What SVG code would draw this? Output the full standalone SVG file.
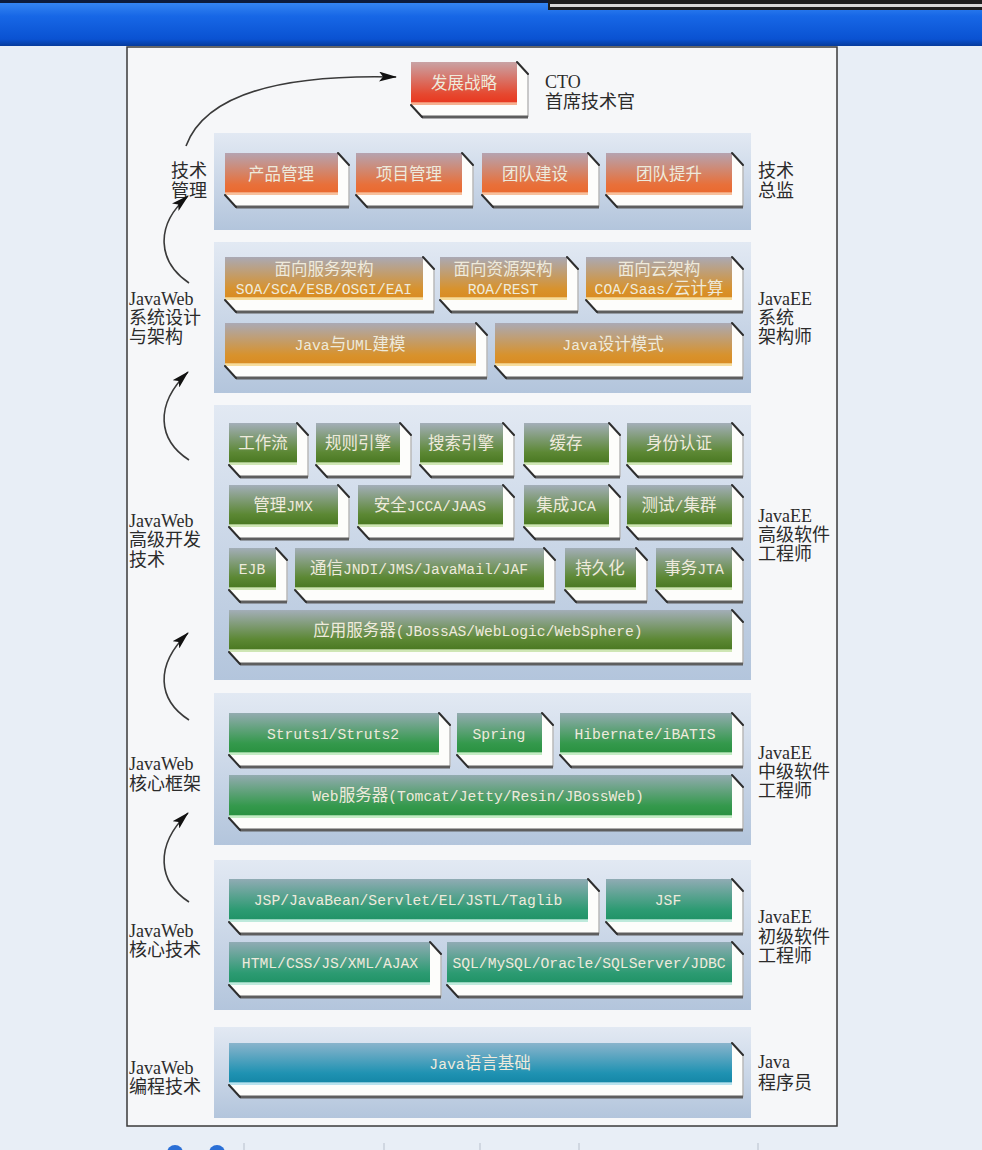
<svg xmlns="http://www.w3.org/2000/svg" width="982" height="1150" viewBox="0 0 982 1150">
<style>
.lbl{font-family:"Liberation Serif","Noto Sans CJK SC",serif;font-size:18px;fill:#2b2b2b}
.bt{font-family:"Liberation Mono","Noto Sans CJK SC",monospace;font-size:14.7px;fill:#eeeadc;text-anchor:middle}
.cj{font-size:16.5px}
.side{fill:#fdfdfb}
.e1{fill:none;stroke:#2e2e2e;stroke-width:2;stroke-linecap:round}
.e2{fill:none;stroke:#5e5e5e;stroke-width:3}
.e3{fill:none;stroke:#b8b8b8;stroke-width:1.5}
.sec{fill:url(#gSec)}
.con{fill:none;stroke:#3a3a3a;stroke-width:1.6}
</style>
<defs>
<linearGradient id="gBar" x1="0" y1="0" x2="0" y2="1">
<stop offset="0" stop-color="#3b8cf5"/><stop offset="0.35" stop-color="#1767e6"/><stop offset="0.85" stop-color="#0a52d2"/><stop offset="1" stop-color="#053a9c"/>
</linearGradient>
<linearGradient id="gSec" x1="0" y1="0" x2="0" y2="1">
<stop offset="0" stop-color="#e2e9f3"/><stop offset="1" stop-color="#b3c5dc"/>
</linearGradient>
<linearGradient id="gRed" x1="0" y1="0" x2="0" y2="1">
<stop offset="0" stop-color="#c9a3a5"/><stop offset="0.75" stop-color="#e6482f"/><stop offset="0.92" stop-color="#e83a22"/><stop offset="0.95" stop-color="#f6b090"/><stop offset="1" stop-color="#f6b090"/>
</linearGradient>
<linearGradient id="gOr" x1="0" y1="0" x2="0" y2="1">
<stop offset="0" stop-color="#b5a3b0"/><stop offset="0.75" stop-color="#e8703a"/><stop offset="0.92" stop-color="#ea6a30"/><stop offset="0.95" stop-color="#f7c09c"/><stop offset="1" stop-color="#f7c09c"/>
</linearGradient>
<linearGradient id="gGold" x1="0" y1="0" x2="0" y2="1">
<stop offset="0" stop-color="#aaa9b4"/><stop offset="0.75" stop-color="#d8922c"/><stop offset="0.92" stop-color="#d98c24"/><stop offset="0.95" stop-color="#f6dc9c"/><stop offset="1" stop-color="#f6dc9c"/>
</linearGradient>
<linearGradient id="gOl" x1="0" y1="0" x2="0" y2="1">
<stop offset="0" stop-color="#a3aeb8"/><stop offset="0.7" stop-color="#5c8834"/><stop offset="0.92" stop-color="#4c7a24"/><stop offset="0.95" stop-color="#cfe6b4"/><stop offset="1" stop-color="#cfe6b4"/>
</linearGradient>
<linearGradient id="gGr" x1="0" y1="0" x2="0" y2="1">
<stop offset="0" stop-color="#93abb0"/><stop offset="0.72" stop-color="#34994c"/><stop offset="0.92" stop-color="#2b9242"/><stop offset="0.95" stop-color="#c4ecc4"/><stop offset="1" stop-color="#c4ecc4"/>
</linearGradient>
<linearGradient id="gTe" x1="0" y1="0" x2="0" y2="1">
<stop offset="0" stop-color="#90abb4"/><stop offset="0.72" stop-color="#2c9b72"/><stop offset="0.92" stop-color="#229468"/><stop offset="0.95" stop-color="#bfeadc"/><stop offset="1" stop-color="#bfeadc"/>
</linearGradient>
<linearGradient id="gBl" x1="0" y1="0" x2="0" y2="1">
<stop offset="0" stop-color="#8ab4cc"/><stop offset="0.72" stop-color="#1f92b2"/><stop offset="0.92" stop-color="#1688a8"/><stop offset="0.95" stop-color="#b8e2ee"/><stop offset="1" stop-color="#b8e2ee"/>
</linearGradient>
<linearGradient id="gSlab" x1="0" y1="0" x2="0" y2="1">
<stop offset="0" stop-color="#e9ebee"/><stop offset="0.5" stop-color="#ffffff"/><stop offset="1" stop-color="#f7f7f4"/>
</linearGradient>
<marker id="ah" viewBox="0 0 18 10" refX="17" refY="5" markerWidth="18" markerHeight="10" markerUnits="userSpaceOnUse" orient="auto">
<path d="M0,0 L18,5 L0,10 L4,5 z" fill="#111"/>
</marker>
</defs>

<!-- window background -->
<rect x="0" y="0" width="982" height="1150" fill="#e8eef6"/>
<rect x="0" y="0" width="982" height="46" fill="url(#gBar)"/>
<rect x="0" y="0" width="982" height="3" fill="#0d1c3c"/>
<rect x="548" y="0" width="434" height="10" fill="#1e1e1e"/>
<rect x="550" y="4" width="432" height="3" fill="#d8d8d8"/>

<!-- main panel -->
<rect x="127" y="47" width="710" height="1079" fill="#f6f7f9" stroke="#3a3a3a" stroke-width="1.5"/>

<!-- section backgrounds -->
<g id="sec-director"><rect class="sec" x="214" y="133" width="537" height="97"/></g>
<g id="sec-architect"><rect class="sec" x="214" y="242" width="537" height="151"/></g>
<g id="sec-senior"><rect class="sec" x="214" y="405" width="537" height="275"/></g>
<g id="sec-middle"><rect class="sec" x="214" y="693" width="537" height="152"/></g>
<g id="sec-junior"><rect class="sec" x="214" y="860" width="537" height="150"/></g>
<g id="sec-programmer"><rect class="sec" x="214" y="1027" width="537" height="91"/></g>

<!-- CTO -->
<g id="n-strategy">
<rect x="411" y="62" width="106" height="43" fill="url(#gRed)"/>
<polygon class="side" points="517,62 528,74 528,117 422,117 411,105 517,105"/>
<path class="e3" d="M528,74 V117"/><path class="e2" d="M422,117 H528"/><path class="e1" d="M411,105 L422,117 M517,62 L528,74"/>
<text class="bt" x="464" y="89"><tspan class="cj">发展战略</tspan></text>
</g>
<g id="lbl-cto"><text class="lbl" x="545" y="88">CTO</text><text class="lbl" x="545" y="108">首席技术官</text></g>

<!-- director -->
<g id="n-product">
<rect x="225" y="153" width="113" height="42" fill="url(#gOr)"/>
<polygon class="side" points="338,153 349,165 349,207 236,207 225,195 338,195"/>
<path class="e3" d="M349,165 V207"/><path class="e2" d="M236,207 H349"/><path class="e1" d="M225,195 L236,207 M338,153 L349,165"/>
<text class="bt" x="281" y="180"><tspan class="cj">产品管理</tspan></text>
</g>
<g id="n-project">
<rect x="356" y="153" width="106" height="42" fill="url(#gOr)"/>
<polygon class="side" points="462,153 473,165 473,207 367,207 356,195 462,195"/>
<path class="e3" d="M473,165 V207"/><path class="e2" d="M367,207 H473"/><path class="e1" d="M356,195 L367,207 M462,153 L473,165"/>
<text class="bt" x="409" y="180"><tspan class="cj">项目管理</tspan></text>
</g>
<g id="n-team-build">
<rect x="482" y="153" width="106" height="42" fill="url(#gOr)"/>
<polygon class="side" points="588,153 599,165 599,207 493,207 482,195 588,195"/>
<path class="e3" d="M599,165 V207"/><path class="e2" d="M493,207 H599"/><path class="e1" d="M482,195 L493,207 M588,153 L599,165"/>
<text class="bt" x="535" y="180"><tspan class="cj">团队建设</tspan></text>
</g>
<g id="n-team-up">
<rect x="606" y="153" width="126" height="42" fill="url(#gOr)"/>
<polygon class="side" points="732,153 743,165 743,207 617,207 606,195 732,195"/>
<path class="e3" d="M743,165 V207"/><path class="e2" d="M617,207 H743"/><path class="e1" d="M606,195 L617,207 M732,153 L743,165"/>
<text class="bt" x="669" y="180"><tspan class="cj">团队提升</tspan></text>
</g>
<g id="lbl-mgmt"><text class="lbl" x="171" y="177">技术</text><text class="lbl" x="171" y="197">管理</text></g>
<g id="lbl-director"><text class="lbl" x="758" y="177">技术</text><text class="lbl" x="758" y="197">总监</text></g>

<!-- architect -->
<g id="n-soa">
<rect x="225" y="257" width="198" height="43" fill="url(#gGold)"/>
<polygon class="side" points="423,257 434,269 434,312 236,312 225,300 423,300"/>
<path class="e3" d="M434,269 V312"/><path class="e2" d="M236,312 H434"/><path class="e1" d="M225,300 L236,312 M423,257 L434,269"/>
<text class="bt" x="324" y="275"><tspan class="cj">面向服务架构</tspan></text>
<text class="bt" x="324" y="294">SOA/SCA/ESB/OSGI/EAI</text>
</g>
<g id="n-roa">
<rect x="440" y="257" width="127" height="43" fill="url(#gGold)"/>
<polygon class="side" points="567,257 578,269 578,312 451,312 440,300 567,300"/>
<path class="e3" d="M578,269 V312"/><path class="e2" d="M451,312 H578"/><path class="e1" d="M440,300 L451,312 M567,257 L578,269"/>
<text class="bt" x="503" y="275"><tspan class="cj">面向资源架构</tspan></text>
<text class="bt" x="503" y="294">ROA/REST</text>
</g>
<g id="n-coa">
<rect x="586" y="257" width="146" height="43" fill="url(#gGold)"/>
<polygon class="side" points="732,257 743,269 743,312 597,312 586,300 732,300"/>
<path class="e3" d="M743,269 V312"/><path class="e2" d="M597,312 H743"/><path class="e1" d="M586,300 L597,312 M732,257 L743,269"/>
<text class="bt" x="659" y="275"><tspan class="cj">面向云架构</tspan></text>
<text class="bt" x="659" y="294">COA/Saas/<tspan class="cj">云计算</tspan></text>
</g>
<g id="n-uml">
<rect x="225" y="323" width="251" height="43" fill="url(#gGold)"/>
<polygon class="side" points="476,323 487,335 487,378 236,378 225,366 476,366"/>
<path class="e3" d="M487,335 V378"/><path class="e2" d="M236,378 H487"/><path class="e1" d="M225,366 L236,378 M476,323 L487,335"/>
<text class="bt" x="350" y="350">Java<tspan class="cj">与</tspan>UML<tspan class="cj">建模</tspan></text>
</g>
<g id="n-pattern">
<rect x="495" y="323" width="237" height="43" fill="url(#gGold)"/>
<polygon class="side" points="732,323 743,335 743,378 506,378 495,366 732,366"/>
<path class="e3" d="M743,335 V378"/><path class="e2" d="M506,378 H743"/><path class="e1" d="M495,366 L506,378 M732,323 L743,335"/>
<text class="bt" x="613" y="350">Java<tspan class="cj">设计模式</tspan></text>
</g>
<g id="lbl-design"><text class="lbl" x="129" y="305">JavaWeb</text><text class="lbl" x="129" y="324">系统设计</text><text class="lbl" x="129" y="343">与架构</text></g>
<g id="lbl-architect"><text class="lbl" x="758" y="305">JavaEE</text><text class="lbl" x="758" y="324">系统</text><text class="lbl" x="758" y="343">架构师</text></g>

<!-- senior -->
<g id="n-workflow">
<rect x="229" y="423" width="68" height="42" fill="url(#gOl)"/>
<polygon class="side" points="297,423 308,435 308,477 240,477 229,465 297,465"/>
<path class="e3" d="M308,435 V477"/><path class="e2" d="M240,477 H308"/><path class="e1" d="M229,465 L240,477 M297,423 L308,435"/>
<text class="bt" x="263" y="449"><tspan class="cj">工作流</tspan></text>
</g>
<g id="n-rules">
<rect x="316" y="423" width="84" height="42" fill="url(#gOl)"/>
<polygon class="side" points="400,423 411,435 411,477 327,477 316,465 400,465"/>
<path class="e3" d="M411,435 V477"/><path class="e2" d="M327,477 H411"/><path class="e1" d="M316,465 L327,477 M400,423 L411,435"/>
<text class="bt" x="358" y="449"><tspan class="cj">规则引擎</tspan></text>
</g>
<g id="n-search">
<rect x="420" y="423" width="83" height="42" fill="url(#gOl)"/>
<polygon class="side" points="503,423 514,435 514,477 431,477 420,465 503,465"/>
<path class="e3" d="M514,435 V477"/><path class="e2" d="M431,477 H514"/><path class="e1" d="M420,465 L431,477 M503,423 L514,435"/>
<text class="bt" x="461" y="449"><tspan class="cj">搜索引擎</tspan></text>
</g>
<g id="n-cache">
<rect x="524" y="423" width="85" height="42" fill="url(#gOl)"/>
<polygon class="side" points="609,423 620,435 620,477 535,477 524,465 609,465"/>
<path class="e3" d="M620,435 V477"/><path class="e2" d="M535,477 H620"/><path class="e1" d="M524,465 L535,477 M609,423 L620,435"/>
<text class="bt" x="566" y="449"><tspan class="cj">缓存</tspan></text>
</g>
<g id="n-auth">
<rect x="627" y="423" width="105" height="42" fill="url(#gOl)"/>
<polygon class="side" points="732,423 743,435 743,477 638,477 627,465 732,465"/>
<path class="e3" d="M743,435 V477"/><path class="e2" d="M638,477 H743"/><path class="e1" d="M627,465 L638,477 M732,423 L743,435"/>
<text class="bt" x="679" y="449"><tspan class="cj">身份认证</tspan></text>
</g>
<g id="n-jmx">
<rect x="229" y="485" width="109" height="42" fill="url(#gOl)"/>
<polygon class="side" points="338,485 349,497 349,539 240,539 229,527 338,527"/>
<path class="e3" d="M349,497 V539"/><path class="e2" d="M240,539 H349"/><path class="e1" d="M229,527 L240,539 M338,485 L349,497"/>
<text class="bt" x="283" y="511"><tspan class="cj">管理</tspan>JMX</text>
</g>
<g id="n-security">
<rect x="358" y="485" width="145" height="42" fill="url(#gOl)"/>
<polygon class="side" points="503,485 514,497 514,539 369,539 358,527 503,527"/>
<path class="e3" d="M514,497 V539"/><path class="e2" d="M369,539 H514"/><path class="e1" d="M358,527 L369,539 M503,485 L514,497"/>
<text class="bt" x="430" y="511"><tspan class="cj">安全</tspan>JCCA/JAAS</text>
</g>
<g id="n-jca">
<rect x="524" y="485" width="85" height="42" fill="url(#gOl)"/>
<polygon class="side" points="609,485 620,497 620,539 535,539 524,527 609,527"/>
<path class="e3" d="M620,497 V539"/><path class="e2" d="M535,539 H620"/><path class="e1" d="M524,527 L535,539 M609,485 L620,497"/>
<text class="bt" x="566" y="511"><tspan class="cj">集成</tspan>JCA</text>
</g>
<g id="n-cluster">
<rect x="627" y="485" width="105" height="42" fill="url(#gOl)"/>
<polygon class="side" points="732,485 743,497 743,539 638,539 627,527 732,527"/>
<path class="e3" d="M743,497 V539"/><path class="e2" d="M638,539 H743"/><path class="e1" d="M627,527 L638,539 M732,485 L743,497"/>
<text class="bt" x="679" y="511"><tspan class="cj">测试</tspan>/<tspan class="cj">集群</tspan></text>
</g>
<g id="n-ejb">
<rect x="229" y="548" width="47" height="42" fill="url(#gOl)"/>
<polygon class="side" points="276,548 287,560 287,602 240,602 229,590 276,590"/>
<path class="e3" d="M287,560 V602"/><path class="e2" d="M240,602 H287"/><path class="e1" d="M229,590 L240,602 M276,548 L287,560"/>
<text class="bt" x="252" y="574">EJB</text>
</g>
<g id="n-comm">
<rect x="295" y="548" width="249" height="42" fill="url(#gOl)"/>
<polygon class="side" points="544,548 555,560 555,602 306,602 295,590 544,590"/>
<path class="e3" d="M555,560 V602"/><path class="e2" d="M306,602 H555"/><path class="e1" d="M295,590 L306,602 M544,548 L555,560"/>
<text class="bt" x="419" y="574"><tspan class="cj">通信</tspan>JNDI/JMS/JavaMail/JAF</text>
</g>
<g id="n-persist">
<rect x="565" y="548" width="71" height="42" fill="url(#gOl)"/>
<polygon class="side" points="636,548 647,560 647,602 576,602 565,590 636,590"/>
<path class="e3" d="M647,560 V602"/><path class="e2" d="M576,602 H647"/><path class="e1" d="M565,590 L576,602 M636,548 L647,560"/>
<text class="bt" x="600" y="574"><tspan class="cj">持久化</tspan></text>
</g>
<g id="n-jta">
<rect x="656" y="548" width="76" height="42" fill="url(#gOl)"/>
<polygon class="side" points="732,548 743,560 743,602 667,602 656,590 732,590"/>
<path class="e3" d="M743,560 V602"/><path class="e2" d="M667,602 H743"/><path class="e1" d="M656,590 L667,602 M732,548 L743,560"/>
<text class="bt" x="694" y="574"><tspan class="cj">事务</tspan>JTA</text>
</g>
<g id="n-appserver">
<rect x="229" y="610" width="503" height="42" fill="url(#gOl)"/>
<polygon class="side" points="732,610 743,622 743,664 240,664 229,652 732,652"/>
<path class="e3" d="M743,622 V664"/><path class="e2" d="M240,664 H743"/><path class="e1" d="M229,652 L240,664 M732,610 L743,622"/>
<text class="bt" x="478" y="636"><tspan class="cj">应用服务器</tspan>(JBossAS/WebLogic/WebSphere)</text>
</g>
<g id="lbl-advanced"><text class="lbl" x="129" y="527">JavaWeb</text><text class="lbl" x="129" y="546">高级开发</text><text class="lbl" x="129" y="566">技术</text></g>
<g id="lbl-senior"><text class="lbl" x="758" y="522">JavaEE</text><text class="lbl" x="758" y="541">高级软件</text><text class="lbl" x="758" y="560">工程师</text></g>

<!-- middle -->
<g id="n-struts">
<rect x="229" y="713" width="210" height="42" fill="url(#gGr)"/>
<polygon class="side" points="439,713 450,725 450,767 240,767 229,755 439,755"/>
<path class="e3" d="M450,725 V767"/><path class="e2" d="M240,767 H450"/><path class="e1" d="M229,755 L240,767 M439,713 L450,725"/>
<text class="bt" x="333" y="739">Struts1/Struts2</text>
</g>
<g id="n-spring">
<rect x="457" y="713" width="85" height="42" fill="url(#gGr)"/>
<polygon class="side" points="542,713 553,725 553,767 468,767 457,755 542,755"/>
<path class="e3" d="M553,725 V767"/><path class="e2" d="M468,767 H553"/><path class="e1" d="M457,755 L468,767 M542,713 L553,725"/>
<text class="bt" x="499" y="739">Spring</text>
</g>
<g id="n-hibernate">
<rect x="560" y="713" width="172" height="42" fill="url(#gGr)"/>
<polygon class="side" points="732,713 743,725 743,767 571,767 560,755 732,755"/>
<path class="e3" d="M743,725 V767"/><path class="e2" d="M571,767 H743"/><path class="e1" d="M560,755 L571,767 M732,713 L743,725"/>
<text class="bt" x="645" y="739">Hibernate/iBATIS</text>
</g>
<g id="n-webserver">
<rect x="229" y="775" width="503" height="43" fill="url(#gGr)"/>
<polygon class="side" points="732,775 743,787 743,830 240,830 229,818 732,818"/>
<path class="e3" d="M743,787 V830"/><path class="e2" d="M240,830 H743"/><path class="e1" d="M229,818 L240,830 M732,775 L743,787"/>
<text class="bt" x="478" y="801">Web<tspan class="cj">服务器</tspan>(Tomcat/Jetty/Resin/JBossWeb)</text>
</g>
<g id="lbl-framework"><text class="lbl" x="129" y="770">JavaWeb</text><text class="lbl" x="129" y="790">核心框架</text></g>
<g id="lbl-middle"><text class="lbl" x="758" y="759">JavaEE</text><text class="lbl" x="758" y="778">中级软件</text><text class="lbl" x="758" y="797">工程师</text></g>

<!-- junior -->
<g id="n-jsp">
<rect x="229" y="879" width="359" height="43" fill="url(#gTe)"/>
<polygon class="side" points="588,879 599,891 599,934 240,934 229,922 588,922"/>
<path class="e3" d="M599,891 V934"/><path class="e2" d="M240,934 H599"/><path class="e1" d="M229,922 L240,934 M588,879 L599,891"/>
<text class="bt" x="408" y="905">JSP/JavaBean/Servlet/EL/JSTL/Taglib</text>
</g>
<g id="n-jsf">
<rect x="606" y="879" width="126" height="43" fill="url(#gTe)"/>
<polygon class="side" points="732,879 743,891 743,934 617,934 606,922 732,922"/>
<path class="e3" d="M743,891 V934"/><path class="e2" d="M617,934 H743"/><path class="e1" d="M606,922 L617,934 M732,879 L743,891"/>
<text class="bt" x="668" y="905">JSF</text>
</g>
<g id="n-html">
<rect x="229" y="942" width="201" height="43" fill="url(#gTe)"/>
<polygon class="side" points="430,942 441,954 441,997 240,997 229,985 430,985"/>
<path class="e3" d="M441,954 V997"/><path class="e2" d="M240,997 H441"/><path class="e1" d="M229,985 L240,997 M430,942 L441,954"/>
<text class="bt" x="330" y="968">HTML/CSS/JS/XML/AJAX</text>
</g>
<g id="n-sql">
<rect x="447" y="942" width="285" height="43" fill="url(#gTe)"/>
<polygon class="side" points="732,942 743,954 743,997 458,997 447,985 732,985"/>
<path class="e3" d="M743,954 V997"/><path class="e2" d="M458,997 H743"/><path class="e1" d="M447,985 L458,997 M732,942 L743,954"/>
<text class="bt" x="589" y="968">SQL/MySQL/Oracle/SQLServer/JDBC</text>
</g>
<g id="lbl-coretech"><text class="lbl" x="129" y="937">JavaWeb</text><text class="lbl" x="129" y="956">核心技术</text></g>
<g id="lbl-junior"><text class="lbl" x="758" y="923">JavaEE</text><text class="lbl" x="758" y="943">初级软件</text><text class="lbl" x="758" y="962">工程师</text></g>

<!-- programmer -->
<g id="n-java">
<rect x="229" y="1043" width="503" height="42" fill="url(#gBl)"/>
<polygon class="side" points="732,1043 743,1055 743,1097 240,1097 229,1085 732,1085"/>
<path class="e3" d="M743,1055 V1097"/><path class="e2" d="M240,1097 H743"/><path class="e1" d="M229,1085 L240,1097 M732,1043 L743,1055"/>
<text class="bt" x="480" y="1069">Java<tspan class="cj">语言基础</tspan></text>
</g>
<g id="lbl-programming"><text class="lbl" x="129" y="1074">JavaWeb</text><text class="lbl" x="129" y="1093">编程技术</text></g>
<g id="lbl-programmer"><text class="lbl" x="758" y="1068">Java</text><text class="lbl" x="758" y="1089">程序员</text></g>

<!-- connectors -->
<g id="connectors">
<path class="con" d="M186,146 C205,95 280,74 396,77" marker-end="url(#ah)"/>
<path class="con" d="M189,283 C158,262 154,226 188,196" marker-end="url(#ah)"/>
<path class="con" d="M189,460 C158,440 154,405 188,372" marker-end="url(#ah)"/>
<path class="con" d="M189,720 C158,700 154,666 188,633" marker-end="url(#ah)"/>
<path class="con" d="M189,902 C158,882 154,846 188,813" marker-end="url(#ah)"/>
</g>

<!-- bottom toolbar fragment -->
<g id="toolbar">
<circle cx="175" cy="1153" r="8" fill="#2a6fd6"/>
<circle cx="217" cy="1153" r="8" fill="#2a6fd6"/>
<g stroke="#b8c0cc" stroke-width="1"><line x1="244" y1="1143" x2="244" y2="1150"/><line x1="384" y1="1143" x2="384" y2="1150"/><line x1="480" y1="1143" x2="480" y2="1150"/><line x1="579" y1="1143" x2="579" y2="1150"/><line x1="758" y1="1143" x2="758" y2="1150"/></g>
</g>
</svg>
